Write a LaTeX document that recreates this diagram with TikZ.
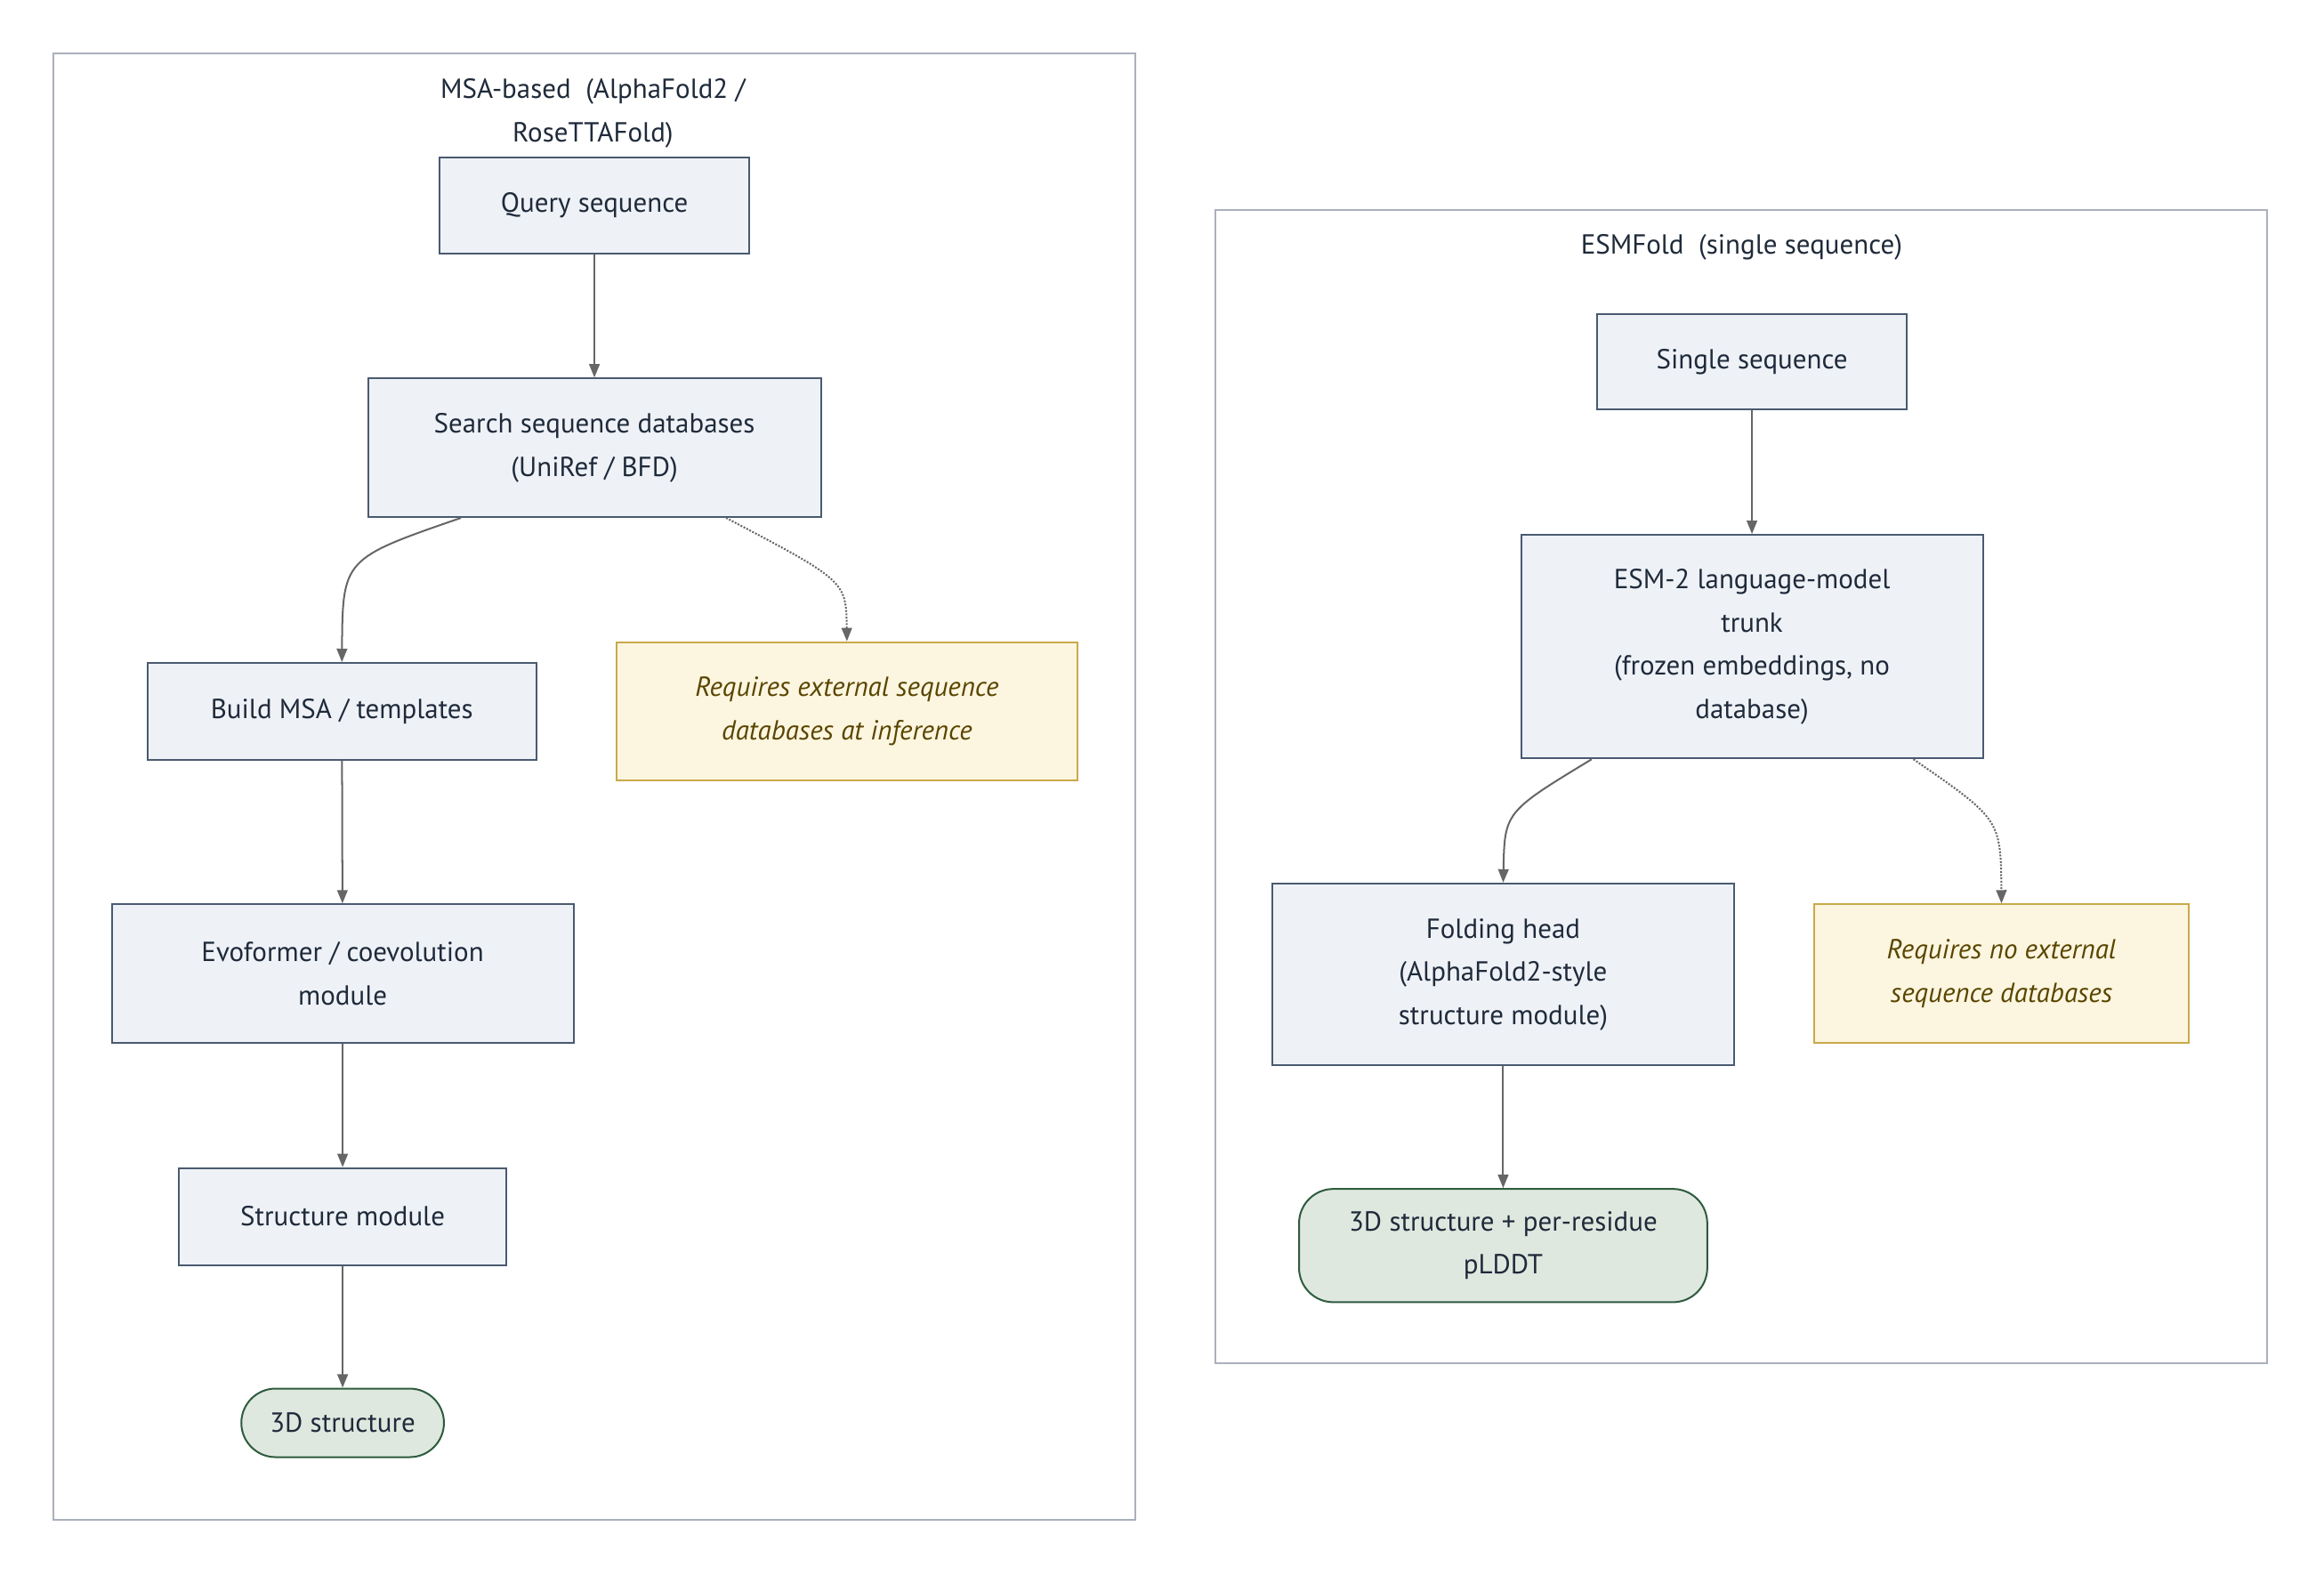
\documentclass[tikz,border=0pt]{standalone}
\usepackage{fontspec}
\setmainfont{PT Sans}
\usetikzlibrary{arrows.meta}
\definecolor{boxf}{HTML}{EEF2F7}
\definecolor{boxd}{HTML}{4A5A70}
\definecolor{notef}{HTML}{FCF6E0}
\definecolor{noted}{HTML}{C9A94A}
\definecolor{notet}{HTML}{5A4500}
\definecolor{pillf}{HTML}{DFE8DF}
\definecolor{pilld}{HTML}{2E5B3E}
\definecolor{clud}{HTML}{AAB0BB}
\definecolor{arr}{HTML}{666666}
\definecolor{txt}{HTML}{1F2A3A}
\tikzset{
 base/.style={font=\fontsize{18.5}{29}\selectfont, align=center, text=txt, inner sep=0pt, line width=1.2pt},
 stepbox/.style={base, draw=boxd, fill=boxf},
 notebox/.style={base, draw=noted, fill=notef, text=notet, font=\fontsize{18.5}{29}\selectfont\itshape},
 pill/.style={base, draw=pilld, fill=pillf, rounded corners=23pt},
 clu/.style={draw=clud, line width=1.2pt, fill=white},
 conn/.style={draw=arr, line width=1.2pt, -{Triangle[length=9pt,width=7pt]}},
 dconn/.style={conn, densely dotted},
}
\newcommand{\bx}[7]{\node[#1, minimum width={#5-#3}, minimum height={#6-#4}] (#2) at ({(#3+#5)/2},{(#4+#6)/2}) {#7};}
\begin{document}
\begin{tikzpicture}[x=1pt,y=-1pt]
\useasboundingbox[fill=white] (0,0) rectangle (1560,1057);
\draw[clu] (36,36) rectangle (762,1020);
\draw[clu] (816,141) rectangle (1522,915);
\node[base] (t1) at (398,76) {MSA-based\ \ (AlphaFold2 /\\RoseTTAFold)};
\node[base] (t2) at (1169,166) {ESMFold\ \ (single sequence)};
\bx{stepbox}{q}{295}{106}{503}{170}{Query sequence}
\bx{stepbox}{s}{247}{254}{551}{347}{Search sequence databases\\(UniRef / BFD)}
\bx{stepbox}{b}{99}{445}{360}{510}{Build MSA / templates}
\bx{notebox}{n1}{414}{431}{723}{524}{Requires external sequence\\databases at inference}
\bx{stepbox}{e}{75}{607}{385}{700}{Evoformer / coevolution\\module}
\bx{stepbox}{sm}{120}{784}{340}{849}{Structure module}
\bx{pill}{o1}{162}{932}{298}{978}{3D structure}
\bx{stepbox}{ss}{1072}{211}{1280}{275}{Single sequence}
\bx{stepbox}{esm}{1021}{359}{1331}{509}{ESM-2 language-model\\trunk\\(frozen embeddings, no\\database)}
\bx{stepbox}{f}{854}{593}{1164}{715}{Folding head\\(AlphaFold2-style\\structure module)}
\bx{notebox}{n2}{1218}{607}{1469}{700}{Requires no external\\sequence databases}
\bx{pill}{o2}{872}{798}{1146}{874}{3D structure + per-residue\\pLDDT}
\draw[conn] (q) -- (s);
\draw[conn] (s.south west)++(63,0) .. controls (230,375) .. (b.north);
\draw[dconn] (s.south west)++(241,0) .. controls (568,390) .. (n1.north);
\draw[conn] (b) -- (e);
\draw[conn] (e) -- (sm);
\draw[conn] (sm) -- (o1);
\draw[conn] (ss) -- (esm);
\draw[conn] (esm.south west)++(48,0) .. controls (1010,545) .. (f.north);
\draw[dconn] (esm.south west)++(264,0) .. controls (1343,550) .. (n2.north);
\draw[conn] (f) -- (o2);
\end{tikzpicture}
\end{document}
